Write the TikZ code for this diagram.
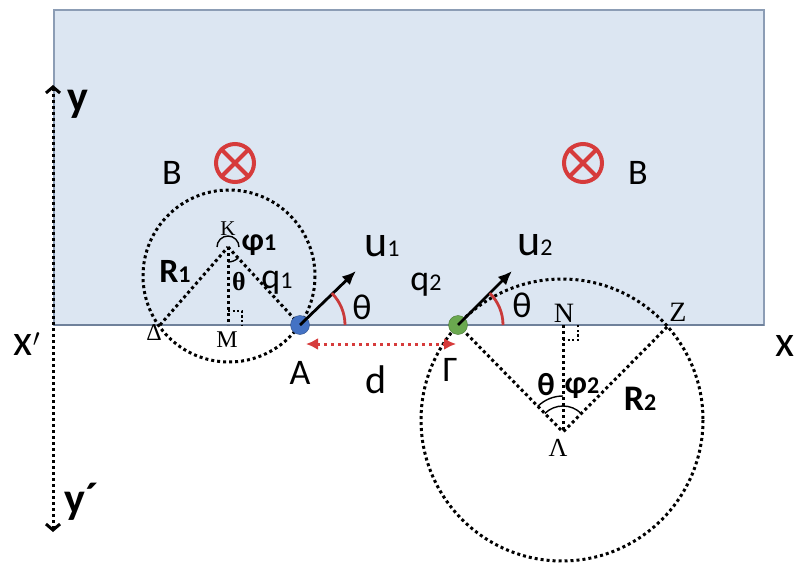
\documentclass[tikz,border=0pt]{standalone}
\usepackage{fontspec}
\setmainfont{Liberation Serif}
\setsansfont{Carlito}
\usetikzlibrary{arrows.meta,calc,positioning}
\definecolor{sky}{HTML}{DCE6F2}
\definecolor{skyline}{HTML}{8C9DB5}
\definecolor{axisline}{HTML}{6F819B}
\definecolor{r}{HTML}{D63B3B}
\definecolor{rarc}{HTML}{C93A3A}
\definecolor{b}{HTML}{4472C4}
\definecolor{g}{HTML}{6AA84F}
\newcommand{\sub}[1]{{\fontsize{24}{24}\selectfont #1}}

\begin{document}
\begin{tikzpicture}[x=1pt,y=-1pt,>=Latex,
  dots/.style={line width=3pt,dash pattern=on 3pt off 3pt},
  thindots/.style={line width=2.2pt,dash pattern=on 2.2pt off 2.4pt},
  lab/.style={font=\sffamily\fontsize{36}{36}\selectfont,inner sep=0pt},
  axlab/.style={font=\sffamily\fontsize{44}{44}\selectfont,inner sep=0pt},
  pt/.style={font=\rmfamily\fontsize{24}{24}\selectfont,inner sep=0pt},
  ang/.style={font=\sffamily\bfseries\fontsize{32}{32}\selectfont,inner sep=0pt},
  field/.style={draw=r,line width=4pt,circle,minimum size=38pt,inner sep=0pt},
  charge/.style={circle,minimum size=19pt,inner sep=0pt,draw=#1!70!black,fill=#1},
  vel/.style={-{Latex[length=14pt,width=12pt]},line width=2.8pt},
  redarc/.style={rarc,line width=2.8pt}]
  \useasboundingbox (0,0) rectangle (811,564);
  % plate with the field
  \draw[skyline,fill=sky,line width=2.5pt] (54,10) rectangle (764,325);
  \draw[axisline,line width=2.5pt] (54,325) -- (764,325);
  \draw[dots,{Straight Barb[length=6pt,width=14pt]}-{Straight Barb[length=6pt,width=14pt]}] (53,85) -- (53,532);
  \node[axlab,font=\sffamily\bfseries\fontsize{44}{44}\selectfont] (yup) at (78,104) {y};
  \node[axlab,font=\sffamily\bfseries\fontsize{44}{44}\selectfont] (ydn) at (82,502) {y´};
  \node[axlab] (xl) at (27,344) {x$'$};
  \node[axlab] (xr) at (785,346) {x};
  % field marks
  \node[field] (B1) at (235,163) {};
  \node[field] (B2) at (583,163) {};
  \foreach \f in {B1,B2}{
    \draw[r,line width=4pt] (\f.north west) -- (\f.south east) (\f.north east) -- (\f.south west);}
  \node[lab] (lB1) at (172,173) {B};
  \node[lab] (lB2) at (638,173) {B};
  % first orbit
  \coordinate (K) at (228,247);
  \coordinate (M) at (228,325);
  \coordinate (D) at (160,325);
  \draw[dots] (229,276) circle[radius=86];
  \draw[dots] (D) -- (K);
  \draw[dots] (K) -- (300,325);
  \draw[dots] (K) -- (M);
  \draw[thindots] (228,311) -- (242,311) -- (242,325);
  \draw[line width=1.4pt] ($(K)+(-11,0)$) arc[start angle=180,end angle=360,radius=11];
  \draw[line width=1.4pt] ($(K)+(0,15)$) arc[start angle=90,end angle=47,radius=15];
  \node[pt,font=\rmfamily\fontsize{21}{21}\selectfont] (lK) at (228,229) {K};
  \node[ang] (lphi1) at (259,245) {φ\sub{1}};
  \node[pt,font=\rmfamily\bfseries\fontsize{26}{26}\selectfont] (lth1) at (239,282) {θ};
  \node[lab] (lq1) at (277,283) {q\sub{1}};
  \node[lab,font=\sffamily\bfseries\fontsize{34}{34}\selectfont] (lR1) at (175,271) {R\sub{1}};
  \node[pt] (lD) at (154,333) {Δ};
  \node[pt] (lM) at (227,340) {M};
  % second orbit
  \coordinate (L) at (563,432);
  \coordinate (N) at (563,325);
  \coordinate (Z) at (667,327);
  \draw[dots] (562,420) circle[radius=141];
  \draw[dots] (458,325) -- (L);
  \draw[dots] (Z) -- (L);
  \draw[dots] (N) -- (L);
  \draw[thindots] (563,340) -- (578,340) -- (578,325);
  \draw[line width=1.4pt] (L) ++(-134.5:36) arc[start angle=-134.5,end angle=-90,radius=36];
  \draw[line width=1.4pt] (L) ++(-134.5:26) arc[start angle=-134.5,end angle=-45.3,radius=26];
  \node[ang] (lth3) at (546,385) {θ};
  \node[ang] (lphi2) at (582,388) {φ\sub{2}};
  \node[lab,font=\sffamily\bfseries\fontsize{36}{36}\selectfont] (lR2) at (640,399) {R\sub{2}};
  \node[pt,font=\rmfamily\fontsize{26}{26}\selectfont] (lL) at (558,448) {Λ};
  \node[pt,font=\rmfamily\fontsize{28}{28}\selectfont] (lN) at (564,313) {N};
  \node[pt,font=\rmfamily\fontsize{28}{28}\selectfont] (lZ) at (678,312) {Z};
  % charges and velocities
  \node[charge=b] (A) at (300,325) {};
  \node[charge=g] (G) at (458,325) {};
  \coordinate (u1) at (356,271);
  \coordinate (u2) at (512,271);
  \draw[vel] (A.center) -- (u1);
  \draw[vel] (G.center) -- (u2);
  \draw[redarc] ($(A.center)+(45,0)$) arc[start angle=0,end angle=-45,radius=45];
  \draw[redarc] ($(G.center)+(45,0)$) arc[start angle=0,end angle=-45,radius=45];
  \node[axlab] (lu1) at (382,246) {u\sub{1}};
  \node[axlab] (lu2) at (535,245) {u\sub{2}};
  \node[lab] (lq2) at (426,285) {q\sub{2}};
  \node[lab] (lth1a) at (362,307) {θ};
  \node[lab] (lth2a) at (522,305) {θ};
  \node[lab] (lA) at (300,373) {A};
  \node[lab] (lG) at (450,370) {Γ};
  % distance
  \coordinate (dL) at (306,344);
  \coordinate (dR) at (456,344);
  \draw[r,line width=3pt,dash pattern=on 3pt off 4pt,{Latex[length=12pt,width=12pt]}-{Latex[length=12pt,width=12pt]}] (dL) -- (dR);
  \node[lab,font=\sffamily\fontsize{40}{40}\selectfont] (ld) at (376,380) {d};
\end{tikzpicture}
\end{document}
